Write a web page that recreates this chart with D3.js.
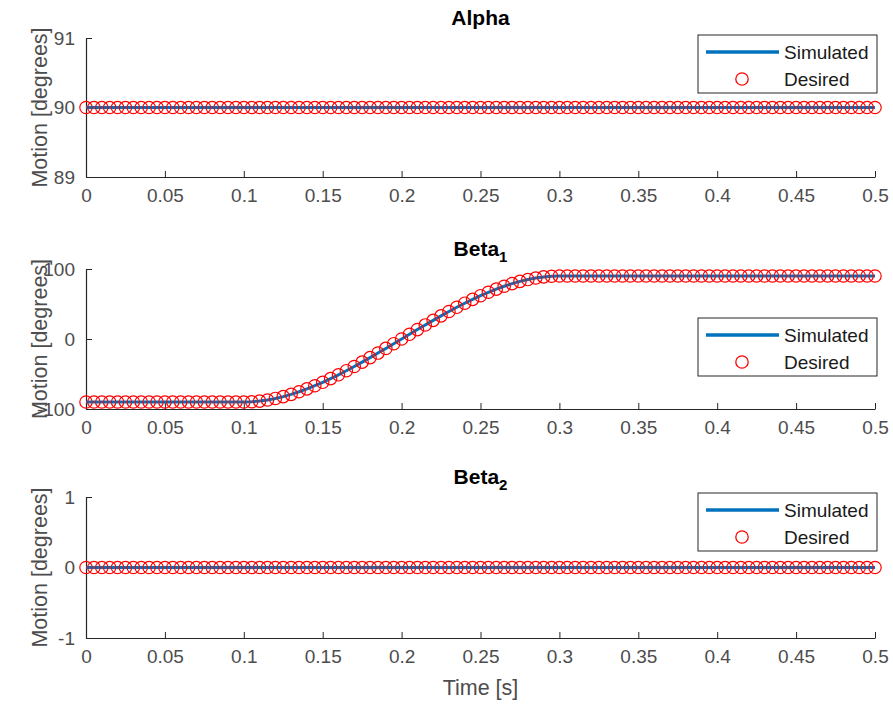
<!DOCTYPE html>
<html>
<head>
<meta charset="utf-8">
<script src="https://cdn.jsdelivr.net/npm/d3@7"></script>
<style>
  html, body { margin: 0; padding: 0; background: #fff; }
  svg { display: block; font-family: "Liberation Sans", Arial, Helvetica, sans-serif; }
</style>
</head>
<body>
<svg id="chart" width="893" height="704"></svg>
<script>
// ---- Data ----
const time = [0,0.005,0.01,0.015,0.02,0.025,0.03,0.035,0.04,0.045,0.05,0.055,0.06,0.065,0.07,0.075,0.08,0.085,0.09,0.095,
0.1,0.105,0.11,0.115,0.12,0.125,0.13,0.135,0.14,0.145,0.15,0.155,0.16,0.165,0.17,0.175,0.18,0.185,0.19,0.195,
0.2,0.205,0.21,0.215,0.22,0.225,0.23,0.235,0.24,0.245,0.25,0.255,0.26,0.265,0.27,0.275,0.28,0.285,0.29,0.295,
0.3,0.305,0.31,0.315,0.32,0.325,0.33,0.335,0.34,0.345,0.35,0.355,0.36,0.365,0.37,0.375,0.38,0.385,0.39,0.395,
0.4,0.405,0.41,0.415,0.42,0.425,0.43,0.435,0.44,0.445,0.45,0.455,0.46,0.465,0.47,0.475,0.48,0.485,0.49,0.495,0.5];

const alphaValues = [90,90,90,90,90,90,90,90,90,90,90,90,90,90,90,90,90,90,90,90,
90,90,90,90,90,90,90,90,90,90,90,90,90,90,90,90,90,90,90,90,
90,90,90,90,90,90,90,90,90,90,90,90,90,90,90,90,90,90,90,90,
90,90,90,90,90,90,90,90,90,90,90,90,90,90,90,90,90,90,90,90,
90,90,90,90,90,90,90,90,90,90,90,90,90,90,90,90,90,90,90,90,90];

const beta1Values = [-90,-90,-90,-90,-90,-90,-90,-90,-90,-90,-90,-90,-90,-90,-90,-90,-90,-90,-90,-90,
-90,-89.67,-88.70,-87.11,-84.96,-82.27,-79.07,-75.39,-71.28,-66.76,-61.88,-56.65,-51.12,-45.32,-39.29,-33.05,-26.64,-20.10,-13.46,-6.74,
0,6.74,13.46,20.10,26.64,33.05,39.29,45.32,51.12,56.65,61.88,66.76,71.28,75.39,79.07,82.27,84.96,87.11,88.70,89.67,
90,90,90,90,90,90,90,90,90,90,90,90,90,90,90,90,90,90,90,90,
90,90,90,90,90,90,90,90,90,90,90,90,90,90,90,90,90,90,90,90,90];

const beta2Values = [0,0,0,0,0,0,0,0,0,0,0,0,0,0,0,0,0,0,0,0,
0,0,0,0,0,0,0,0,0,0,0,0,0,0,0,0,0,0,0,0,
0,0,0,0,0,0,0,0,0,0,0,0,0,0,0,0,0,0,0,0,
0,0,0,0,0,0,0,0,0,0,0,0,0,0,0,0,0,0,0,0,
0,0,0,0,0,0,0,0,0,0,0,0,0,0,0,0,0,0,0,0,0];

const xTicks = [0,0.05,0.1,0.15,0.2,0.25,0.3,0.35,0.4,0.45,0.5];
const xTickLabels = ["0","0.05","0.1","0.15","0.2","0.25","0.3","0.35","0.4","0.45","0.5"];
const panelTitles = [["Alpha", null], ["Beta", "1"], ["Beta", "2"]];
const yDomains = [[89, 91], [-100, 100], [-1, 1]];
const yTickSets = [[89, 90, 91], [-100, 0, 100], [-1, 0, 1]];
const yTickLabelSets = [["89", "90", "91"], ["-100", "0", "100"], ["-1", "0", "1"]];
const seriesNames = ["Simulated", "Desired"];
const xLabel = "Time [s]";
const yLabel = "Motion [degrees]";

// ---- Layout ----
const svg = d3.select("#chart");
const left = 86, right = 875;
const panels = [
  { top: 38, bottom: 177, legendTop: 35 },
  { top: 269, bottom: 409, legendTop: 318 },
  { top: 497, bottom: 638, legendTop: 493 }
];
const seriesData = [alphaValues, beta1Values, beta2Values];

const axisColor = "#262626";
const textColor = "#4d4d4d";
const lineColor = "#0072BD";
const markerColor = "#ff0000";
const tickFont = 19, labelFont = 21.5, titleFont = 21, legendFont = 19;

const x = d3.scaleLinear().domain([0, 0.5]).range([left, right]);

panels.forEach((p, i) => {
  const y = d3.scaleLinear().domain(yDomains[i]).range([p.bottom, p.top]);
  const g = svg.append("g");
  const vals = seriesData[i];
  const pts = time.map((t, k) => [t, vals[k]]);

  // Axes
  const xAxis = d3.axisBottom(x).tickValues(xTicks).tickSizeInner(-6).tickSizeOuter(0).tickPadding(12)
    .tickFormat((d, k) => xTickLabels[k]);
  const gx = g.append("g").attr("transform", `translate(0,${p.bottom})`).call(xAxis);
  const yAxis = d3.axisLeft(y).tickValues(yTickSets[i]).tickSizeInner(-6).tickSizeOuter(0).tickPadding(11)
    .tickFormat((d, k) => yTickLabelSets[i][k]);
  const gy = g.append("g").attr("transform", `translate(${left},0)`).call(yAxis);
  [gx, gy].forEach(a => {
    a.select(".domain").attr("stroke", axisColor).attr("stroke-width", 1.2);
    a.selectAll(".tick line").attr("stroke", axisColor).attr("stroke-width", 1);
    a.selectAll(".tick text").attr("fill", textColor).style("font-size", tickFont + "px")
      .style("font-family", '"Liberation Sans", Arial, sans-serif');
  });
  gx.selectAll(".tick text").attr("dy", "0.71em");

  // Line (Simulated)
  const line = d3.line().x(d => x(d[0])).y(d => y(d[1]));
  g.append("path").datum(pts).attr("d", line).attr("fill", "none")
    .attr("stroke", lineColor).attr("stroke-width", 3);

  // Markers (Desired)
  g.append("g").selectAll("circle").data(pts).join("circle")
    .attr("cx", d => x(d[0])).attr("cy", d => y(d[1])).attr("r", 6.2)
    .attr("fill", "none").attr("stroke", markerColor).attr("stroke-width", 1.2);

  // Title
  const t = svg.append("text").attr("x", (left + right) / 2).attr("y", p.top - 13)
    .attr("text-anchor", "middle").attr("font-weight", "bold").attr("fill", "#000")
    .style("font-size", titleFont + "px");
  t.append("tspan").text(panelTitles[i][0]);
  if (panelTitles[i][1]) {
    t.append("tspan").attr("dy", 6).style("font-size", "15px").text(panelTitles[i][1]);
  }

  // Y label
  svg.append("text")
    .attr("transform", `translate(39,${(p.top + p.bottom) / 2}) rotate(-90)`)
    .attr("text-anchor", "middle").attr("dy", "0.35em").attr("fill", textColor)
    .style("font-size", labelFont + "px").text(yLabel);

  // Legend
  const lx = 698, lw = 179, lh = 58, ly = p.legendTop;
  const lg = svg.append("g");
  lg.append("rect").attr("x", lx).attr("y", ly).attr("width", lw).attr("height", lh)
    .attr("fill", "#fff").attr("stroke", axisColor).attr("stroke-width", 1);
  lg.append("line").attr("x1", lx + 8).attr("x2", lx + 81).attr("y1", ly + 17).attr("y2", ly + 17)
    .attr("stroke", lineColor).attr("stroke-width", 3.5);
  lg.append("circle").attr("cx", lx + 44).attr("cy", ly + 44).attr("r", 6.2)
    .attr("fill", "none").attr("stroke", markerColor).attr("stroke-width", 1.3);
  seriesNames.forEach((n, k) => {
    lg.append("text").attr("x", lx + 86).attr("y", ly + 17 + k * 27).attr("dy", "0.35em")
      .attr("fill", "#1a1a1a").style("font-size", legendFont + "px").text(n);
  });
});

// X label
svg.append("text").attr("x", (left + right) / 2).attr("y", 695)
  .attr("text-anchor", "middle").attr("fill", textColor)
  .style("font-size", labelFont + "px").text(xLabel);
</script>
</body>
</html>
